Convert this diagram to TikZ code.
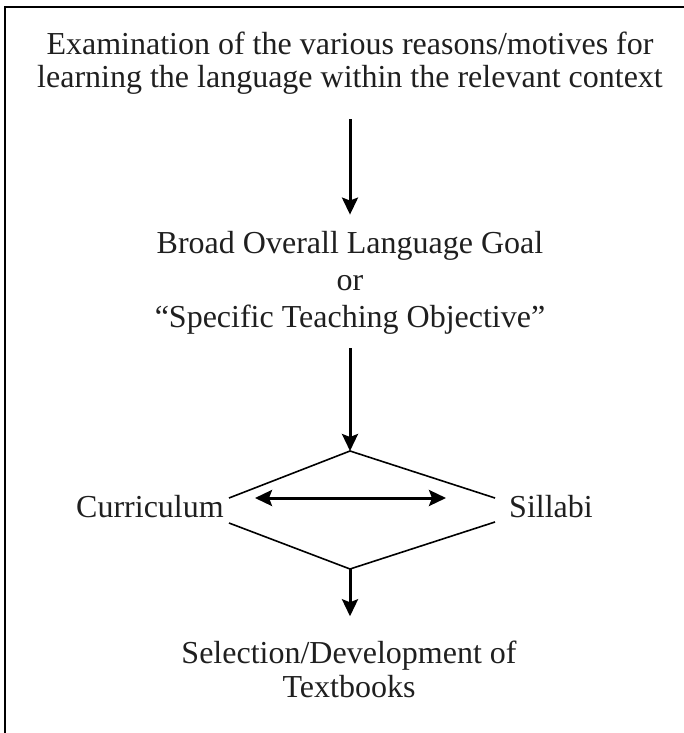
\documentclass[tikz,border=0pt]{standalone}
\usepackage{fontspec}
\setmainfont{Liberation Serif}
\usetikzlibrary{arrows.meta}
\begin{document}
\begin{tikzpicture}[x=1pt,y=-1pt,
  txt/.style={inner sep=0pt, align=center, anchor=base, text=black!88},
  big/.style={font=\fontsize{32}{#1}\selectfont},
  tip/.tip={Stealth[length=17pt,width=16pt,inset=3pt]},
  flow/.style={line width=3pt, -tip},
  both/.style={line width=3pt, tip-tip},
  rim/.style={line width=1.6pt, line join=miter},
  frame/.style={line width=2.6pt}]
\useasboundingbox (0,0) rectangle (684,733);
\draw[frame] (5,733) -- (5,7) -- (684,7);

\node[txt, big=33] (title) at (350,88)
  {Examination of the various reasons/motives for\\learning the language within the relevant context};
\node[txt, big=37] (goal) at (350,327)
  {Broad Overall Language Goal\\or\\``Specific Teaching Objective''};
\node[txt, big=33] (curr) at (150,517) {Curriculum};
\node[txt, big=33] (sill) at (551,517) {Sillabi};
\node[txt, big=34] (sel) at (349,697) {Selection/Development of\\Textbooks};

\coordinate (dtop) at (350,451);
\coordinate (dbot) at (350,569);
\coordinate (dlu) at (229,498);
\coordinate (dll) at (229,523);
\coordinate (dru) at (495,498);
\coordinate (drl) at (495,522);

\draw[rim] (dlu) -- (dtop) -- (dru);
\draw[rim] (dll) -- (dbot) -- (drl);

\draw[flow, shorten <=24pt, shorten >=16pt] (title.south -| dtop) -- (goal.north -| dtop);
\draw[flow, shorten <=14pt] (goal.south -| dtop) -- (dtop);
\draw[flow, shorten >=24pt] (dbot) -- (sel.north -| dbot);
\draw[both, shorten <=26pt, shorten >=49pt] (dlu) -- (dru);
\end{tikzpicture}
\end{document}
